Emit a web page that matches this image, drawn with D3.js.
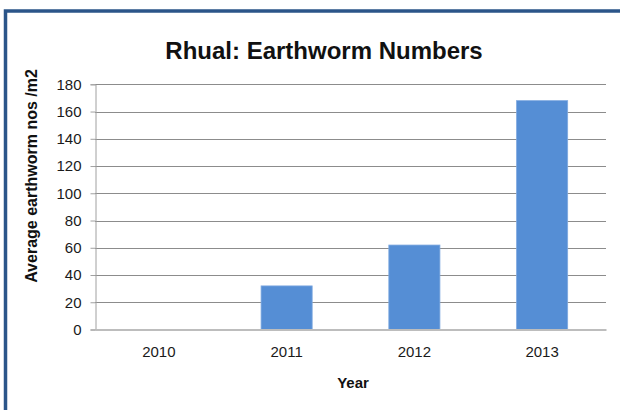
<!DOCTYPE html>
<html>
<head>
<meta charset="utf-8">
<script src="https://cdn.jsdelivr.net/npm/d3@7"></script>
<style>
  html, body { margin: 0; padding: 0; background: #fff; }
  svg { display: block; }
</style>
</head>
<body>
<svg id="chart" width="620" height="410"></svg>
<script>
// Earthworm counts per year (average nos / m2)
const years = ["2010", "2011", "2012", "2013"];
const counts = [0, 32, 62, 168];
const yTicks = [0, 20, 40, 60, 80, 100, 120, 140, 160, 180];

const titleText = "Rhual: Earthworm Numbers";
const xTitle = "Year";
const yTitle = "Average earthworm nos /m2";

const font = "'Liberation Sans', Arial, sans-serif";
const svg = d3.select("#chart");

// frame around the chart
svg.append("path")
  .attr("d", "M5.5,410 L5.5,11 L620,11")
  .attr("fill", "none")
  .attr("stroke", "#2b5589")
  .attr("stroke-width", 3.5);

const plot = { left: 95, right: 606, top: 84.3, bottom: 329.5 };

const x = d3.scaleBand()
  .domain(years)
  .range([plot.left, plot.right])
  .paddingInner(0.6)
  .paddingOuter(0.3);

const y = d3.scaleLinear()
  .domain([0, 180])
  .range([plot.bottom, plot.top]);

// horizontal gridlines
svg.append("g")
  .selectAll("line")
  .data(yTicks.filter(d => d > 0))
  .join("line")
  .attr("x1", plot.left)
  .attr("x2", plot.right)
  .attr("y1", d => Math.round(y(d)) + 0.5)
  .attr("y2", d => Math.round(y(d)) + 0.5)
  .attr("stroke", "#8c8c8c")
  .attr("stroke-width", 1);

// bars
svg.append("g")
  .selectAll("rect")
  .data(years.map((yr, i) => ({ yr, v: counts[i] })))
  .join("rect")
  .attr("x", d => x(d.yr))
  .attr("width", x.bandwidth())
  .attr("y", d => y(d.v))
  .attr("height", d => y(0) - y(d.v))
  .attr("fill", "#558ed5")
  .attr("stroke", "#7fa9e0")
  .attr("stroke-width", 0.8);

// y axis
const yAxis = d3.axisLeft(y)
  .tickValues(yTicks)
  .tickSize(5)
  .tickPadding(9);
const gy = svg.append("g")
  .attr("transform", `translate(${plot.left + 0.5},0)`)
  .call(yAxis);
gy.select(".domain").attr("stroke", "#a0a0a0");
gy.selectAll(".tick line").attr("stroke", "#a0a0a0");
gy.selectAll(".tick text")
  .attr("font-family", font)
  .attr("font-size", 15)
  .attr("fill", "#1a1a1a");

// x axis
const xAxis = d3.axisBottom(x)
  .tickSize(0)
  .tickPadding(17);
const gx = svg.append("g")
  .attr("transform", `translate(0,${plot.bottom})`)
  .call(xAxis);
gx.select(".domain").attr("stroke", "#bdbdbd").attr("stroke-width", 2);
gx.selectAll(".tick text")
  .attr("font-family", font)
  .attr("font-size", 15)
  .attr("fill", "#1a1a1a");

// title
svg.append("text")
  .attr("x", 324)
  .attr("y", 59)
  .attr("text-anchor", "middle")
  .attr("font-family", font)
  .attr("font-weight", "bold")
  .attr("font-size", 24)
  .attr("fill", "#111")
  .text(titleText);

// axis titles
svg.append("text")
  .attr("x", 353)
  .attr("y", 388)
  .attr("text-anchor", "middle")
  .attr("font-family", font)
  .attr("font-weight", "bold")
  .attr("font-size", 15)
  .attr("fill", "#111")
  .text(xTitle);

svg.append("text")
  .attr("transform", "translate(37,176) rotate(-90)")
  .attr("text-anchor", "middle")
  .attr("font-family", font)
  .attr("font-weight", "bold")
  .attr("font-size", 16)
  .attr("fill", "#111")
  .text(yTitle);
</script>
</body>
</html>
